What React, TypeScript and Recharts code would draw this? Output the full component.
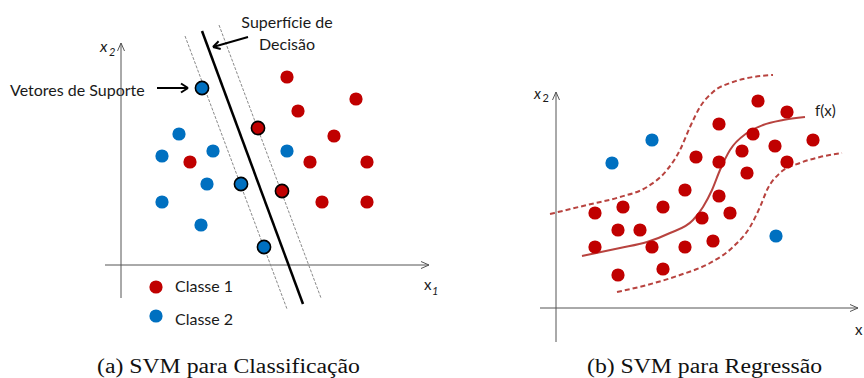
import React from "react";
import {
  ComposedChart,
  Scatter,
  Line,
  XAxis,
  YAxis,
  ReferenceLine,
  ReferenceDot,
  Customized,
} from "recharts";

const RED = "#C00000";
const BLUE = "#0070C0";
const CURVE = "#B8433F";
const FONT = "Lato, 'Open Sans', sans-serif";

// ---------- (a) classification ----------
const class1 = [
  { x: 166, y: 188 }, { x: 235, y: 166 }, { x: 177, y: 154 }, { x: 213, y: 129 },
  { x: 189, y: 103 }, { x: 246, y: 103 }, { x: 69, y: 103 }, { x: 201, y: 63 },
  { x: 246, y: 63 },
];
const class2 = [
  { x: 58, y: 131 }, { x: 41, y: 109 }, { x: 92, y: 114 }, { x: 166, y: 114 },
  { x: 86, y: 81 }, { x: 41, y: 63 }, { x: 80, y: 40 },
];
const supportRed = [{ x: 137, y: 137 }, { x: 161, y: 74 }];
const supportBlue = [{ x: 81, y: 177 }, { x: 120, y: 81 }, { x: 143, y: 18 }];
const decisionLine = [{ x: 81, y: 234 }, { x: 182, y: -39 }];
const marginLeft = [{ x: 64, y: 229 }, { x: 166, y: -44 }];
const marginRight = [{ x: 98, y: 240 }, { x: 200, y: -33 }];

// ---------- (b) regression ----------
const regPoints = [
  { x: 202, y: 207 }, { x: 231, y: 196 }, { x: 163, y: 184 }, { x: 197, y: 174 },
  { x: 257, y: 168 }, { x: 219, y: 162 }, { x: 186, y: 157 }, { x: 140, y: 151 },
  { x: 163, y: 146 }, { x: 231, y: 146 }, { x: 191, y: 135 }, { x: 129, y: 118 },
  { x: 163, y: 112 }, { x: 67, y: 101 }, { x: 107, y: 101 }, { x: 39, y: 95 },
  { x: 174, y: 95 }, { x: 146, y: 90 }, { x: 62, y: 78 }, { x: 84, y: 78 },
  { x: 157, y: 67 }, { x: 39, y: 61 }, { x: 96, y: 61 }, { x: 129, y: 61 },
  { x: 107, y: 39 }, { x: 62, y: 33 },
];
const outliers = [{ x: 96, y: 168 }, { x: 56, y: 145 }, { x: 220, y: 72 }];
const fCurve = [
  { x: 26, y: 52 }, { x: 64, y: 60 }, { x: 91, y: 66 }, { x: 114, y: 75 },
  { x: 137, y: 88 }, { x: 147, y: 101 }, { x: 156, y: 118 }, { x: 164, y: 138 },
  { x: 174, y: 158 }, { x: 191, y: 175 }, { x: 207, y: 183 }, { x: 227, y: 188 },
  { x: 249, y: 191 },
];
const upperTube = [
  { x: -6, y: 94 }, { x: 31, y: 103 }, { x: 64, y: 111 }, { x: 91, y: 121 },
  { x: 111, y: 138 }, { x: 124, y: 158 }, { x: 134, y: 181 }, { x: 144, y: 201 },
  { x: 157, y: 216 }, { x: 177, y: 226 }, { x: 197, y: 231 }, { x: 217, y: 233 },
];
const lowerTube = [
  { x: 61, y: 16 }, { x: 91, y: 23 }, { x: 124, y: 33 }, { x: 154, y: 45 },
  { x: 177, y: 61 }, { x: 194, y: 81 }, { x: 204, y: 101 }, { x: 212, y: 120 },
  { x: 224, y: 135 }, { x: 244, y: 145 }, { x: 264, y: 151 }, { x: 286, y: 155 },
];

const captions = ["(a) SVM para Classificação", "(b) SVM para Regressão"];

const dot = (fill: string, stroke?: string) => (props: any) => (
  <circle
    cx={props.cx}
    cy={props.cy}
    r={6.6}
    fill={fill}
    stroke={stroke || "none"}
    strokeWidth={stroke ? 1.6 : 0}
  />
);

const seg = (a: [number, number], b: [number, number], stroke = "#555", w = 1) => (
  <ReferenceLine
    segment={[{ x: a[0], y: a[1] }, { x: b[0], y: b[1] }]}
    stroke={stroke}
    strokeWidth={w}
    ifOverflow="visible"
  />
);

const LeftTexts = () => (
  <g fontFamily={FONT} fill="#1a1a1a">
    <text x={287} y={28} fontSize={16} textAnchor="middle">Superfície de</text>
    <text x={287} y={49.5} fontSize={16} textAnchor="middle">Decisão</text>
    <text x={10} y={96} fontSize={16}>Vetores de Suporte</text>
    <text x={175} y={292} fontSize={16}>Classe 1</text>
    <text x={175} y={325} fontSize={16}>Classe 2</text>
    <text x={100} y={52} fontSize={16} fontStyle="italic">x</text>
    <text x={109} y={55.5} fontSize={11} fontStyle="italic">2</text>
    <text x={424} y={290} fontSize={15}>x</text>
    <text x={432} y={295} fontSize={11} fontStyle="italic">1</text>
  </g>
);

const RightTexts = () => (
  <g fontFamily={FONT} fill="#1a1a1a">
    <text x={14} y={39} fontSize={15} fontStyle="italic">x</text>
    <text x={22.5} y={42} fontSize={11}>2</text>
    <text x={295} y={56} fontSize={15}>f(x)</text>
    <text x={335} y={275} fontSize={15}>x</text>
  </g>
);

export default function App() {
  return (
    <div
      style={{
        position: "absolute",
        left: 0,
        top: 0,
        width: 864,
        height: 378,
        background: "#fff",
        overflow: "hidden",
      }}
    >
      {/* (a) */}
      <div style={{ position: "absolute", left: 0, top: 0 }}>
        <ComposedChart width={440} height={340} margin={{ top: 0, right: 0, bottom: 0, left: 0 }}>
          <XAxis type="number" dataKey="x" domain={[-121, 319]} hide allowDataOverflow />
          <YAxis type="number" dataKey="y" domain={[-75, 265]} hide allowDataOverflow />
          {seg([0, -33], [0, 222], "#555", 1)}
          {seg([0, 222], [-3.5, 214], "#555", 1)}
          {seg([0, 222], [3.5, 214], "#555", 1)}
          {seg([-16, 0], [308, 0], "#555", 1)}
          {seg([308, 0], [300, 3.5], "#555", 1)}
          {seg([308, 0], [300, -3.5], "#555", 1)}
          <ReferenceLine
            segment={marginLeft}
            stroke="#8a8a8a"
            strokeWidth={1}
            strokeDasharray="3 1.5"
            ifOverflow="visible"
          />
          <ReferenceLine
            segment={marginRight}
            stroke="#8a8a8a"
            strokeWidth={1}
            strokeDasharray="3 1.5"
            ifOverflow="visible"
          />
          <ReferenceLine segment={decisionLine} stroke="#000" strokeWidth={2.5} ifOverflow="visible" />
          {seg([36, 177], [67, 177], "#000", 2)}
          {seg([67, 177], [60, 181.5], "#000", 2)}
          {seg([67, 177], [60, 172.5], "#000", 2)}
          {seg([127, 228], [92, 218], "#000", 2)}
          {seg([92, 218], [97.6, 223.7], "#000", 2)}
          {seg([92, 218], [99.7, 216], "#000", 2)}
          <Scatter data={class1} shape={dot(RED)} isAnimationActive={false} />
          <Scatter data={class2} shape={dot(BLUE)} isAnimationActive={false} />
          <Scatter data={supportRed} shape={dot(RED, "#000")} isAnimationActive={false} />
          <Scatter data={supportBlue} shape={dot(BLUE, "#000")} isAnimationActive={false} />
          <ReferenceDot x={35} y={-22} r={6.6} fill={RED} stroke="none" ifOverflow="visible" />
          <ReferenceDot x={35} y={-51} r={6.6} fill={BLUE} stroke="none" ifOverflow="visible" />
          <Customized component={LeftTexts} />
        </ComposedChart>
      </div>

      {/* (b) */}
      <div style={{ position: "absolute", left: 520, top: 60 }}>
        <ComposedChart width={344} height={290} margin={{ top: 0, right: 0, bottom: 0, left: 0 }}>
          <XAxis type="number" dataKey="x" domain={[-36, 308]} hide allowDataOverflow />
          <YAxis type="number" dataKey="y" domain={[-42, 248]} hide allowDataOverflow />
          {seg([0, -34], [0, 216], "#555", 1)}
          {seg([0, 216], [-3.5, 208], "#555", 1)}
          {seg([0, 216], [3.5, 208], "#555", 1)}
          {seg([-16, 0], [302, 0], "#555", 1)}
          {seg([302, 0], [294, 3.5], "#555", 1)}
          {seg([302, 0], [294, -3.5], "#555", 1)}
          <Line
            data={upperTube}
            dataKey="y"
            type="monotone"
            stroke={CURVE}
            strokeWidth={2}
            strokeDasharray="5 3"
            dot={false}
            activeDot={false}
            isAnimationActive={false}
          />
          <Line
            data={lowerTube}
            dataKey="y"
            type="monotone"
            stroke={CURVE}
            strokeWidth={2}
            strokeDasharray="5 3"
            dot={false}
            activeDot={false}
            isAnimationActive={false}
          />
          <Line
            data={fCurve}
            dataKey="y"
            type="monotone"
            stroke={CURVE}
            strokeWidth={2}
            dot={false}
            activeDot={false}
            isAnimationActive={false}
          />
          <Scatter data={regPoints} shape={dot(RED)} isAnimationActive={false} />
          <Scatter data={outliers} shape={dot(BLUE)} isAnimationActive={false} />
          <Customized component={RightTexts} />
        </ComposedChart>
      </div>

      {/* captions */}
      <svg
        width={864}
        height={40}
        style={{ position: "absolute", left: 0, top: 338 }}
      >
        <g fontFamily="'Liberation Serif', 'Times New Roman', serif" fontSize={20} fill="#111">
          <text x={97} y={35} textLength={263} lengthAdjust="spacingAndGlyphs">
            {captions[0]}
          </text>
          <text x={587} y={35} textLength={235} lengthAdjust="spacingAndGlyphs">
            {captions[1]}
          </text>
        </g>
      </svg>
    </div>
  );
}
